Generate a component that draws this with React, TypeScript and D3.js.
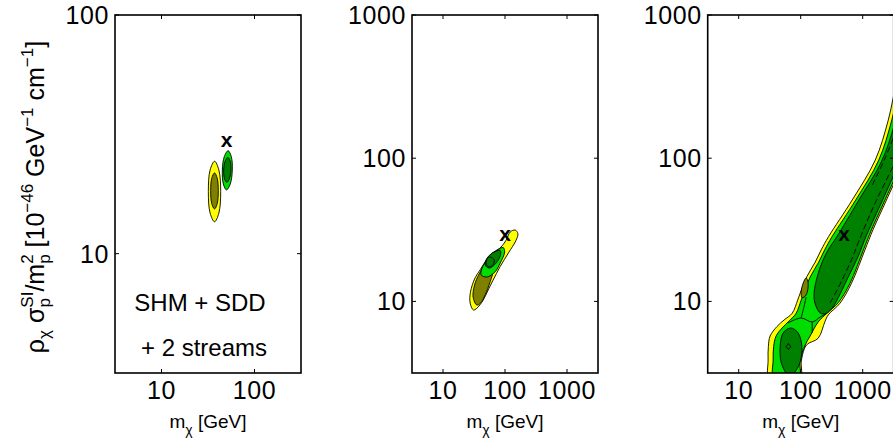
import React from "react";
import * as d3 from "d3";

type Pt = [number, number];

// ---------- axes ----------
const xTicksA = [10, 100];
const yTicksA = [10, 100];
const xTicksB = [10, 100, 1000];
const yTicksB = [10, 100, 1000];
const xDomainA: Pt = [3.162, 316.2];
const yDomainA: Pt = [3.162, 100];
const xDomainB: Pt = [3.162, 3162];
const yDomainB: Pt = [3.162, 1000];

// benchmark points (m_chi [GeV], rho*sigma/m^2)
const benchmarkA: Pt = [50, 29.5];
const benchmarkB: Pt = [100, 29];
const benchmarkC: Pt = [500, 29];

const annotationLines = ["SHM + SDD", "+ 2 streams"];

// ---------- panel 1 contours ----------
const p1Yellow95: Pt[] = [[37.2,24.4],[41.4,22.4],[43.3,18.2],[41.4,14.8],[37.2,13.6],[33.3,14.8],[31.9,18.2],[33.3,22.4]];
const p1Olive68: Pt[] = [[37.2,21.8],[39.7,20.7],[40.8,18.4],[39.7,16.2],[37.2,15.4],[34.7,16.2],[33.8,18.4],[34.7,20.7]];
const p1Green95: Pt[] = [[52.0,27.0],[56.3,25.5],[57.7,22.4],[54.9,19.6],[50.0,18.5],[46.2,19.6],[45.1,22.4],[47.3,25.5]];
const p1Dark68: Pt[] = [[51.6,25.3],[54.7,24.4],[55.8,22.4],[53.7,20.6],[50.4,19.9],[47.6,20.6],[46.6,22.4],[48.4,24.4]];

// ---------- panel 2 contours ----------
const p2Yellow95: Pt[] = [[145.9,31.5],[161.3,29.8],[151.4,26.8],[113.7,21.8],[83.5,17.5],[64.4,14.1],[53.4,12.0],[44.4,10.2],[35.1,8.95],[30.9,8.71],[27.4,9.74],[27.7,11.6],[32.9,14.6],[39.7,16.6],[47.8,18.9],[61.3,21.7],[83.5,23.6],[104.4,26.8],[121.1,30.5]];
const p2Olive68: Pt[] = [[35.1,9.44],[30.6,10.7],[32.3,13.0],[38.2,15.5],[49.6,18.2],[66.8,18.8],[65.6,16.6],[57.6,13.7],[47.8,11.1],[40.4,9.74]];
const p2Green95: Pt[] = [[41.2,15.3],[42.7,17.1],[53.4,19.8],[73.8,22.6],[93.3,23.8],[98.7,22.1],[83.5,18.5],[69.3,16.1],[51.5,14.8]];
const p2Dark68: Pt[] = [[47.8,18.0],[51.5,20.1],[64.4,21.9],[83.5,22.7],[83.5,20.7],[69.3,18.2],[55.4,17.1]];
const p2Inner: Pt[] = [[57.6,20.4],[66.8,19.5],[64.4,18.0],[55.4,17.4],[49.6,18.2],[51.5,19.8]];

// ---------- panel 3 contours ----------
const p3Yellow95: Pt[] = [[31.5,2.83],[29.8,3.90],[30.1,4.83],[32.1,5.73],[41.2,6.66],[54.0,7.42],[72.8,8.26],[89.3,10.2],[98.0,11.4],[125.8,14.9],[171.2,18.8],[214.0,22.9],[280.8,28.3],[678,51.1],[1595,97.1],[2587,184.8],[3615,351.6],[5865,617.4],[37650,617.4],[12340,217.1],[4867,97.1],[3116,65.0],[2148,45.6],[1481,32.0],[1087,22.9],[660.5,13.4],[429,9.70],[277.7,8.04],[245.5,7.21],[191.3,5.53],[123.8,4.96],[102.8,3.90],[96.9,2.83]];
const p3Green95: Pt[] = [[37.2,2.83],[35.9,3.90],[36.6,4.83],[40.1,5.73],[50.1,6.52],[65.1,7.30],[84.4,8.26],[101.7,10.2],[111.6,11.4],[142.1,14.8],[195.0,18.8],[243.7,22.9],[319.8,28.3],[772.2,51.1],[1817,97.1],[2947,184.8],[4119,351.6],[6677,617.4],[34960,617.4],[11670,217.1],[4605,97.1],[2947,65.0],[2032,45.6],[1400,32.0],[1028,22.9],[624.6,13.4],[405.7,9.82],[267.6,8.30],[191.3,7.18],[142.1,5.73],[118.0,4.96],[98.0,3.90],[92.7,2.83]];
const p3Olive68: Pt[] = [[122.5,14.6],[131.9,13.4],[122.5,11.1],[105.5,10.6],[101.7,11.6],[109.5,13.4]];
const p3DarkMain: Pt[] = [[168.1,9.90],[165,11.6],[184.4,14.8],[222.1,18.8],[277.7,22.9],[380.9,28.2],[847.5,50.2],[1994,94.1],[3233,170.5],[4520,324.5],[7063,617.4],[31280,617.4],[9162,200.3],[3355,80.1],[1921,47.1],[1120,28.2],[847.5,20.7],[562.9,14.3],[402.7,10.6],[322.2,8.99],[257.7,8.23],[206.1,8.30]];
const p3DarkBlob: Pt[] = [[68.8,6.52],[90.9,6.02],[104.4,4.83],[98.0,3.77],[78.4,3.16],[67.5,3.01],[58.2,3.16],[48.3,3.77],[46.6,4.83],[52.1,6.02]];
const p3Peak: Pt[] = [[63.4,5.08],[68.8,4.83],[63.4,4.61],[58.2,4.83]];
const p3NeckA: Pt[] = [[62.7,7.07],[101.7,7.66],[153.1,7.18],[206.1,7.78],[257.7,8.23]];
const p3NeckB: Pt[] = [[101.7,7.66],[113.7,9.29],[122.5,10.7]];
const p3NeckC: Pt[] = [[153.1,7.18],[153.1,6.02]];
const p3DashA: Pt[] = [[299.1,9.74],[450.3,13.7],[678,20.1],[879.6,26.8],[1481,45.6],[2787,80.1],[4520,123.7]];
const p3DashB: Pt[] = [[1426,65.0],[2229,97.1],[3355,150]];

// ---------- styling ----------
const YELLOW = "#ffff00";
const OLIVE = "#808000";
const GREEN = "#00dd00";
const DARK = "#008000";
const FONT = "'Liberation Sans', Arial, Helvetica, sans-serif";

const TOP = 15;
const PH = 358;
const PW = 186;

type Region = { pts: Pt[]; fill: string; sharp?: boolean };
type PanelDef = {
  id: string;
  left: number;
  xDomain: Pt;
  yDomain: Pt;
  xTicks: number[];
  yTicks: number[];
  regions: Region[];
  lines: Pt[][];
  dashed: Pt[][];
  bench: Pt;
};

function Panel({ p }: { p: PanelDef }) {
  const x = d3.scaleLog().domain(p.xDomain).range([p.left, p.left + PW]);
  const y = d3.scaleLog().domain(p.yDomain).range([TOP + PH, TOP]);
  const smooth = d3.line<Pt>().x((d) => x(d[0])).y((d) => y(d[1])).curve(d3.curveCatmullRomClosed.alpha(0.5));
  const sharp = d3.line<Pt>().x((d) => x(d[0])).y((d) => y(d[1])).curve(d3.curveLinearClosed);
  const open = d3.line<Pt>().x((d) => x(d[0])).y((d) => y(d[1])).curve(d3.curveCatmullRom.alpha(0.5));
  const bottom = TOP + PH;
  const right = p.left + PW;
  const tl = 4;
  return (
    <g>
      <defs>
        <clipPath id={`clip-${p.id}`}>
          <rect x={p.left} y={TOP} width={PW} height={PH} />
        </clipPath>
      </defs>
      <g clipPath={`url(#clip-${p.id})`}>
        {p.regions.map((r, i) => (
          <path key={i} d={(r.sharp ? sharp : smooth)(r.pts) || ""} fill={r.fill} stroke="#000" strokeWidth={0.9} strokeLinejoin="round" />
        ))}
        {p.lines.map((l, i) => (
          <path key={"l" + i} d={open(l) || ""} fill="none" stroke="#000" strokeWidth={0.9} />
        ))}
        {p.dashed.map((l, i) => (
          <path key={"d" + i} d={open(l) || ""} fill="none" stroke="#000" strokeWidth={0.9} strokeDasharray="6,3" />
        ))}
        <text x={x(p.bench[0])} y={y(p.bench[1])} dy="0.27em" textAnchor="middle" fontFamily={FONT} fontWeight="bold" fontSize={21} fill="#000">
          x
        </text>
      </g>
      {p.xTicks.map((t) => (
        <g key={"xt" + t}>
          <line x1={x(t)} x2={x(t)} y1={bottom} y2={bottom - tl} stroke="#000" strokeWidth={1} />
          <line x1={x(t)} x2={x(t)} y1={TOP} y2={TOP + tl} stroke="#000" strokeWidth={1} />
          <text x={x(t)} y={399} textAnchor="middle" fontFamily={FONT} fontSize={25} letterSpacing={0.6} fill="#000">
            {t}
          </text>
        </g>
      ))}
      {p.yTicks.map((t) => (
        <g key={"yt" + t}>
          <line x1={p.left} x2={p.left + tl} y1={y(t)} y2={y(t)} stroke="#000" strokeWidth={1} />
          <line x1={right} x2={right - tl} y1={y(t)} y2={y(t)} stroke="#000" strokeWidth={1} />
          <text x={p.left - 6} y={y(t)} dy="0.36em" textAnchor="end" fontFamily={FONT} fontSize={25} letterSpacing={0.6} fill="#000">
            {t}
          </text>
        </g>
      ))}
      <rect x={p.left} y={TOP} width={PW} height={PH} fill="none" stroke="#000" strokeWidth={1.6} />
      <text x={p.left + PW / 2} y={428} textAnchor="middle" fontFamily={FONT} fontSize={19} fill="#000">
        m<tspan fontSize={14} dy={7}>χ</tspan>
        <tspan dy={-7}>{" [GeV]"}</tspan>
      </text>
    </g>
  );
}

export default function App() {
  const panels: PanelDef[] = [
    {
      id: "a",
      left: 115,
      xDomain: xDomainA,
      yDomain: yDomainA,
      xTicks: xTicksA,
      yTicks: yTicksA,
      regions: [
        { pts: p1Yellow95, fill: YELLOW },
        { pts: p1Olive68, fill: OLIVE },
        { pts: p1Green95, fill: GREEN },
        { pts: p1Dark68, fill: DARK },
      ],
      lines: [],
      dashed: [],
      bench: benchmarkA,
    },
    {
      id: "b",
      left: 412,
      xDomain: xDomainB,
      yDomain: yDomainB,
      xTicks: xTicksB,
      yTicks: yTicksB,
      regions: [
        { pts: p2Yellow95, fill: YELLOW },
        { pts: p2Olive68, fill: OLIVE },
        { pts: p2Green95, fill: GREEN },
        { pts: p2Dark68, fill: DARK },
        { pts: p2Inner, fill: DARK },
      ],
      lines: [],
      dashed: [],
      bench: benchmarkB,
    },
    {
      id: "c",
      left: 707.7,
      xDomain: xDomainB,
      yDomain: yDomainB,
      xTicks: xTicksB,
      yTicks: yTicksB,
      regions: [
        { pts: p3Yellow95, fill: YELLOW },
        { pts: p3Green95, fill: GREEN },
        { pts: p3Olive68, fill: OLIVE },
        { pts: p3DarkMain, fill: DARK },
        { pts: p3DarkBlob, fill: DARK },
        { pts: p3Peak, fill: DARK, sharp: true },
      ],
      lines: [p3NeckA, p3NeckB, p3NeckC],
      dashed: [p3DashA, p3DashB],
      bench: benchmarkC,
    },
  ];

  return (
    <svg width={893} height={445} style={{ display: "block", background: "#fff" }}>
      <style>{`body{margin:0;}`}</style>
      <rect x={0} y={0} width={893} height={445} fill="#fff" />
      {panels.map((p) => (
        <Panel key={p.id} p={p} />
      ))}
      <text x={200} y={311} textAnchor="middle" fontFamily={FONT} fontSize={24} fill="#000">
        {annotationLines[0]}
      </text>
      <text x={204} y={356} textAnchor="middle" fontFamily={FONT} fontSize={24} fill="#000">
        {annotationLines[1]}
      </text>
      <text transform="translate(44,197) rotate(-90)" textAnchor="middle" fontFamily={FONT} fontSize={25} fill="#000">
        ρ<tspan fontSize={17} dy={6}>χ</tspan>
        <tspan dy={-6}>{" σ"}</tspan>
        <tspan fontSize={17} dy={6}>p</tspan>
        <tspan fontSize={17} dx={-9.5} dy={-17}>SI</tspan>
        <tspan dy={11}>/m</tspan>
        <tspan fontSize={17} dy={6}>p</tspan>
        <tspan fontSize={17} dx={-9.5} dy={-17}>2</tspan>
        <tspan dy={11}>{" [10"}</tspan>
        <tspan fontSize={17} dy={-11}>−46</tspan>
        <tspan dy={11}>{" GeV"}</tspan>
        <tspan fontSize={17} dy={-11}>−1</tspan>
        <tspan dy={11}>{" cm"}</tspan>
        <tspan fontSize={17} dy={-11}>−1</tspan>
        <tspan dy={11}>]</tspan>
      </text>
    </svg>
  );
}
